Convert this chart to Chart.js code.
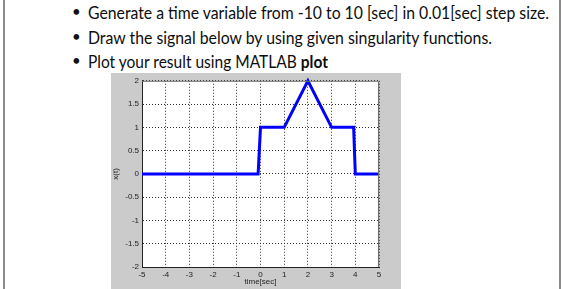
<!DOCTYPE html>
<html>
<head>
<meta charset="utf-8">
<script src="https://cdn.jsdelivr.net/npm/chart.js@4"></script>
<style>
  html, body { margin: 0; padding: 0; background: #fff; }
  body { width: 561px; height: 289px; position: relative; overflow: hidden; }
  .frame { position: absolute; top: 0; bottom: 0; width: 2px; background: #8a8a8a; }
  .line { position: absolute; left: 88px; font-family: Lato, sans-serif; font-size: 17px;
          color: #0d0d0d; white-space: nowrap; transform-origin: 0 50%; }
  .dot { position: absolute; left: 72px; font-family: Lato, sans-serif; font-size: 15px; color: #111; }
  #fig { position: absolute; left: 111px; top: 73px; width: 290px; height: 216px; background: #cbcbcb; }
</style>
</head>
<body>
<div class="frame" style="left:3px"></div>
<div class="frame" style="left:559px"></div>

<div class="dot" style="top:2px">&#8226;</div>
<div class="line" data-w="461" style="top:2px">Generate a time variable from -10 to 10 [sec] in 0.01[sec] step size.</div>
<div class="dot" style="top:27px">&#8226;</div>
<div class="line" data-w="404" style="top:27px">Draw the signal below by using given singularity functions.</div>
<div class="dot" style="top:51px">&#8226;</div>
<div class="line" data-w="240" style="top:51px">Plot your result using MATLAB <b>plot</b></div>

<div id="fig"><canvas id="sig"></canvas></div>

<script>
// signal
const timeSec = [-5, -0.1, 0, 1, 2, 3, 3.93, 4, 5];
const xOfT = [0, 0, 1, 1, 2, 1, 1, 0, 0];

// axis ticks
const xTicks = [-5, -4, -3, -2, -1, 0, 1, 2, 3, 4, 5];
const yTicks = [-2, -1.5, -1, -0.5, 0, 0.5, 1, 1.5, 2];

// squeeze the slide text to the original widths (Calibri is narrower than Lato)
document.querySelectorAll('.line').forEach(el => {
    const w = el.getBoundingClientRect().width;
    el.style.transform = 'scaleX(' + (el.dataset.w / w) + ')';
});

// white plot area + full axes box like matlab
const axesBox = {
    id: 'axesBox',
    beforeDraw(chart) {
        const a = chart.chartArea, ctx = chart.ctx;
        ctx.save();
        ctx.fillStyle = '#fff';
        ctx.fillRect(a.left, a.top, a.right - a.left, a.bottom - a.top);
        ctx.restore();
    },
    afterDatasetsDraw(chart) {
        const a = chart.chartArea, ctx = chart.ctx;
        ctx.save();
        ctx.strokeStyle = '#6e6e6e';
        ctx.lineWidth = 1;
        ctx.beginPath();
        ctx.moveTo(a.left, a.top + 0.5);
        ctx.lineTo(a.right - 0.5, a.top + 0.5);
        ctx.lineTo(a.right - 0.5, a.bottom);
        ctx.stroke();
        ctx.restore();
    }
};

const tickFont = { family: 'Liberation Sans, Arial, sans-serif', size: 8 };

new Chart(document.getElementById('sig').getContext('2d'), {
    type: 'line',
    data: {
        datasets: [{
            data: timeSec.map((t, i) => ({ x: t, y: xOfT[i] })),
            borderColor: '#0000ff',
            borderWidth: 3,
            pointRadius: 0,
            tension: 0,
            clip: false
        }]
    },
    options: {
        responsive: true,
        maintainAspectRatio: false,
        animation: false,
        events: [],
        layout: { padding: { left: 0, top: 6, right: 22, bottom: 0 } },
        plugins: { legend: { display: false }, tooltip: { enabled: false } },
        scales: {
            x: {
                type: 'linear',
                min: -5,
                max: 5,
                afterBuildTicks: s => { s.ticks = xTicks.map(v => ({ value: v })); },
                afterFit: s => { s.height = 22; },
                ticks: { font: tickFont, color: '#222', padding: 3, maxRotation: 0, callback: v => String(v) },
                grid: { color: '#333', drawTicks: false },
                border: { color: '#222', width: 1, dash: [1, 2] },
                title: { display: true, text: 'time[sec]', font: tickFont, color: '#222', padding: { top: 0, bottom: 2 } }
            },
            y: {
                min: -2,
                max: 2,
                afterBuildTicks: s => { s.ticks = yTicks.map(v => ({ value: v })); },
                afterFit: s => { s.width = 31; },
                ticks: { font: tickFont, color: '#222', padding: 3, callback: v => String(v) },
                grid: { color: '#333', drawTicks: false },
                border: { color: '#222', width: 1, dash: [1, 2] },
                title: { display: true, text: 'x(t)', font: tickFont, color: '#222', padding: { top: 0, bottom: 2 } }
            }
        }
    },
    plugins: [axesBox]
});
</script>
</body>
</html>
